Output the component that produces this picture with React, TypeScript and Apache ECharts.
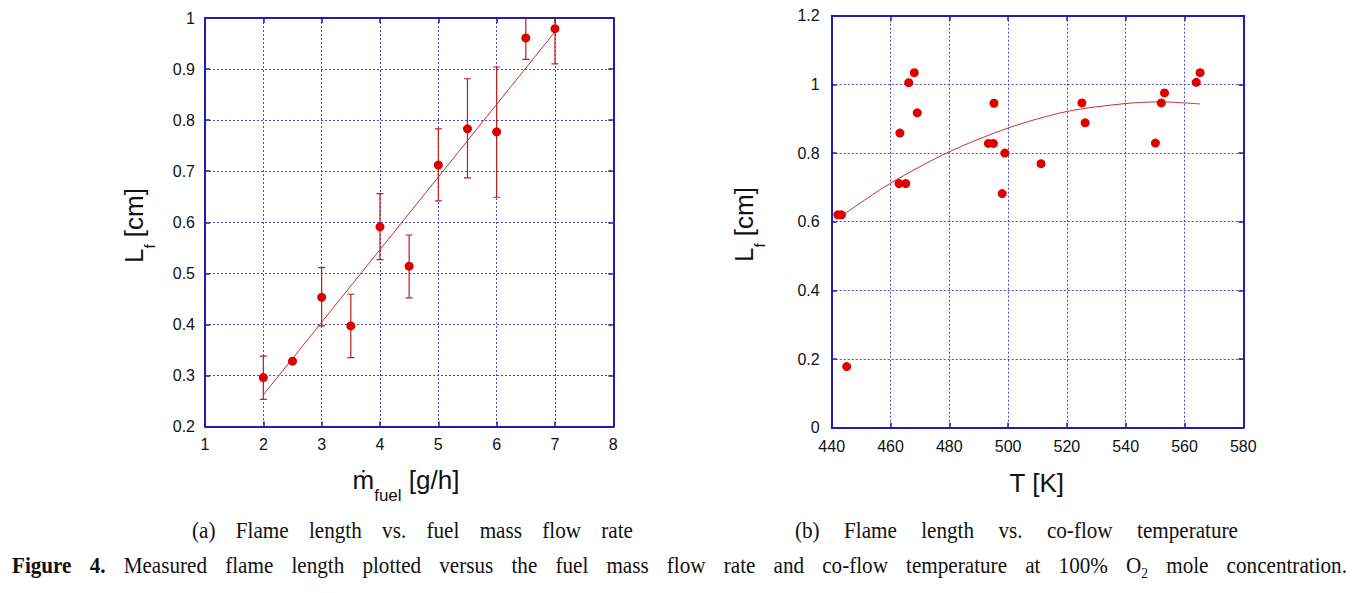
import React, { useEffect, useRef } from 'react';
import * as echarts from 'echarts';

// ---------- Data: (a) flame length vs fuel mass flow rate ----------
const fuelFlow = [2, 2.5, 3, 3.5, 4, 4.5, 5, 5.5, 6, 6.5, 7];
const flameLenA = [0.296, 0.328, 0.453, 0.397, 0.591, 0.514, 0.712, 0.783, 0.777, 0.961, 0.979];
const errLowA = [0.253, null, 0.397, 0.335, 0.527, 0.452, 0.642, 0.687, 0.649, 0.919, 0.91];
const errHighA = [0.338, null, 0.511, 0.459, 0.656, 0.575, 0.783, 0.881, 0.904, 1.003, 1.048];
const fitFlowA = [2, 7];
const fitLenA = [0.262, 0.973];

// ---------- Data: (b) flame length vs co-flow temperature ----------
const coflowT = [442.1, 443.3, 445.1, 462.9, 463.2, 465.2, 466.2, 468.1, 469.1, 493.3, 495.0, 495.2, 498.0, 498.9, 511.2, 525.1, 526.2, 550.1, 552.1, 553.2, 564.0, 565.3];
const flameLenB = [0.62, 0.62, 0.178, 0.711, 0.858, 0.711, 1.005, 1.034, 0.917, 0.828, 0.828, 0.945, 0.682, 0.8, 0.769, 0.946, 0.888, 0.829, 0.946, 0.975, 1.006, 1.034];
const fitT = [443.9, 459.8, 479.6, 500.1, 520, 539.8, 551.7, 565.3];
const fitLenB = [0.62, 0.711, 0.802, 0.873, 0.921, 0.944, 0.949, 0.943];

// ---------- Texts ----------
const captionA = '(a) Flame length vs. fuel mass flow rate';
const captionB = '(b) Flame length vs. co-flow temperature';
const figLabel = ['Figure', '4.'];
const figText = 'Measured flame length plotted versus the fuel mass flow rate and co-flow temperature at 100%';
const figTail = 'mole concentration.';

const SANS = '"Liberation Sans", Arial, Helvetica, sans-serif';
const SERIF = '"Liberation Serif", "Times New Roman", Times, serif';
const AXIS_BLUE = '#1e1eb4';
const GRID_BLUE = '#4a4ac4';
const RED = '#dd0000';
const ERR_RED = '#c01c1c';
const FIT_RED = '#c83030';
const INK = '#111111';
const K = 0.35;

type Run = { text: string; size: number; dy?: number; weight?: string };

function makeMeasure() {
  const ctx = document.createElement('canvas').getContext('2d') as CanvasRenderingContext2D;
  return (text: string, size: number, family: string, weight = 'normal') => {
    ctx.font = `${weight} ${size}px ${family}`;
    return ctx.measureText(text).width;
  };
}

function runEls(measure: any, runs: Run[], x0: number, baseline: number, family: string, color: string, sx = 1) {
  let x = x0;
  const els: any[] = [];
  for (const r of runs) {
    els.push({
      type: 'text',
      x,
      y: baseline + (r.dy || 0) - K * r.size,
      scaleX: sx,
      silent: true,
      style: {
        text: r.text,
        fontSize: r.size,
        fontFamily: family,
        fontWeight: r.weight || 'normal',
        fill: color,
        align: 'left',
        verticalAlign: 'middle',
      },
    });
    x += measure(r.text, r.size, family, r.weight || 'normal') * sx;
  }
  return { els, width: x - x0 };
}

function justified(measure: any, words: Run[][], x0: number, x1: number, baseline: number, family: string, color: string, sx = 1) {
  const widths = words.map((w) => w.reduce((s, r) => s + measure(r.text, r.size, family, r.weight || 'normal') * sx, 0));
  const total = widths.reduce((a, b) => a + b, 0);
  const gap = (x1 - x0 - total) / (words.length - 1);
  let x = x0;
  const els: any[] = [];
  words.forEach((w, i) => {
    els.push(...runEls(measure, w, x, baseline, family, color, sx).els);
    x += widths[i] + gap;
  });
  return els;
}

function axisX(gridIndex: number, min: number, max: number, interval: number, mirror: boolean, margin: number) {
  return {
    type: 'value',
    gridIndex,
    min,
    max,
    interval,
    position: mirror ? 'top' : 'bottom',
    axisLine: { show: true, onZero: false, lineStyle: { color: AXIS_BLUE, width: 2 } },
    axisTick: { show: true, inside: true, length: 5, lineStyle: { color: AXIS_BLUE, width: 1.5 } },
    axisLabel: { show: !mirror, color: INK, fontSize: 16, fontFamily: SANS, margin },
    splitLine: { show: !mirror, lineStyle: { color: GRID_BLUE, type: [2, 2], width: 1 } },
  };
}

function axisY(gridIndex: number, min: number, max: number, interval: number, mirror: boolean, margin: number) {
  return {
    type: 'value',
    gridIndex,
    min,
    max,
    interval,
    position: mirror ? 'right' : 'left',
    axisLine: { show: true, onZero: false, lineStyle: { color: AXIS_BLUE, width: 2 } },
    axisTick: { show: true, inside: true, length: 5, lineStyle: { color: AXIS_BLUE, width: 1.5 } },
    axisLabel: { show: !mirror, color: INK, fontSize: 16, fontFamily: SANS, margin },
    splitLine: { show: !mirror, lineStyle: { color: GRID_BLUE, type: [2, 2], width: 1 } },
  };
}

export default function App() {
  const ref = useRef<HTMLDivElement>(null);

  useEffect(() => {
    document.body.style.margin = '0';
    if (!ref.current) return;
    const chart = echarts.init(ref.current, null, { renderer: 'svg' });
    const measure = makeMeasure();

    const errData = fuelFlow
      .map((x, i) => [x, errLowA[i], errHighA[i]])
      .filter((d) => d[1] != null && d[2] != null);

    // Axis titles
    const yTitleRuns: Run[] = [
      { text: 'L', size: 26 },
      { text: 'f', size: 15, dy: 12 },
      { text: ' [cm]', size: 26 },
    ];
    const yTitleA = { type: 'group', x: 143, y: 263, rotation: Math.PI / 2, children: runEls(measure, yTitleRuns, 0, 0, SANS, INK).els };
    const yTitleB = { type: 'group', x: 753, y: 262, rotation: Math.PI / 2, children: runEls(measure, yTitleRuns, 0, 0, SANS, INK).els };
    const xTitleA = runEls(
      measure,
      [
        { text: 'ṁ', size: 26 },
        { text: 'fuel', size: 17, dy: 12 },
        { text: ' [g/h]', size: 26 },
      ],
      352.5,
      489.5,
      SANS,
      INK,
    ).els;
    const tkW = measure('T [K]', 26, SANS);
    const xTitleB = runEls(measure, [{ text: 'T [K]', size: 26 }], 1037 - tkW / 2, 492.5, SANS, INK).els;

    // Captions
    const CAP = 23.5;
    const SX = 0.9;
    const toWords = (s: string, size: number, weight?: string): Run[][] => s.split(' ').map((w) => [{ text: w, size, weight }]);
    const capA = justified(measure, toWords(captionA, CAP), 192, 633, 538, SERIF, INK, SX);
    const capB = justified(measure, toWords(captionB, CAP), 795, 1238, 538, SERIF, INK, SX);
    const figWords: Run[][] = [
      ...figLabel.map((w) => [{ text: w, size: CAP, weight: 'bold' }]),
      ...toWords(figText, CAP),
      [
        { text: 'O', size: CAP },
        { text: '2', size: 15, dy: 5 },
      ],
      ...toWords(figTail, CAP),
    ];
    const capFig = justified(measure, figWords, 12, 1347, 573, SERIF, INK, SX);

    const option: any = {
      animation: false,
      backgroundColor: '#ffffff',
      grid: [
        { left: 205, top: 18, width: 408.3, height: 408.5 },
        { left: 831.7, top: 15.7, width: 411.6, height: 412 },
      ],
      xAxis: [axisX(0, 1, 8, 1, false, 10), axisX(0, 1, 8, 1, true, 10), axisX(1, 440, 580, 20, false, 11), axisX(1, 440, 580, 20, true, 11)],
      yAxis: [axisY(0, 0.2, 1, 0.1, false, 10), axisY(0, 0.2, 1, 0.1, true, 10), axisY(1, 0, 1.2, 0.2, false, 12), axisY(1, 0, 1.2, 0.2, true, 12)],
      series: [
        {
          type: 'custom',
          name: 'error bars',
          xAxisIndex: 0,
          yAxisIndex: 0,
          clip: true,
          data: errData,
          encode: { x: 0, y: [1, 2] },
          z: 2,
          renderItem: (params: any, api: any) => {
            const x = api.value(0);
            const pLo = api.coord([x, api.value(1)]);
            const pHi = api.coord([x, api.value(2)]);
            const cap = 3.5;
            const style = { stroke: ERR_RED, lineWidth: 1.2 };
            return {
              type: 'group',
              children: [
                { type: 'line', shape: { x1: pLo[0], y1: pLo[1], x2: pHi[0], y2: pHi[1] }, style },
                { type: 'line', shape: { x1: pLo[0] - cap, y1: pLo[1], x2: pLo[0] + cap, y2: pLo[1] }, style },
                { type: 'line', shape: { x1: pHi[0] - cap, y1: pHi[1], x2: pHi[0] + cap, y2: pHi[1] }, style },
              ],
            };
          },
        },
        {
          type: 'line',
          name: 'fit a',
          xAxisIndex: 0,
          yAxisIndex: 0,
          data: fitFlowA.map((x, i) => [x, fitLenA[i]]),
          showSymbol: false,
          lineStyle: { color: FIT_RED, width: 1 },
          z: 2,
        },
        {
          type: 'scatter',
          name: 'flame length a',
          xAxisIndex: 0,
          yAxisIndex: 0,
          data: fuelFlow.map((x, i) => [x, flameLenA[i]]),
          symbolSize: 9,
          itemStyle: { color: RED, opacity: 1 },
          z: 3,
        },
        {
          type: 'line',
          name: 'fit b',
          xAxisIndex: 2,
          yAxisIndex: 2,
          data: fitT.map((x, i) => [x, fitLenB[i]]),
          showSymbol: false,
          smooth: 0.3,
          lineStyle: { color: FIT_RED, width: 1 },
          z: 2,
        },
        {
          type: 'scatter',
          name: 'flame length b',
          xAxisIndex: 2,
          yAxisIndex: 2,
          data: coflowT.map((x, i) => [x, flameLenB[i]]),
          symbolSize: 9,
          itemStyle: { color: RED, opacity: 1 },
          z: 3,
        },
      ],
      graphic: {
        elements: [yTitleA, yTitleB, ...xTitleA, ...xTitleB, ...capA, ...capB, ...capFig],
      },
    };

    chart.setOption(option);
    return () => chart.dispose();
  }, []);

  return <div ref={ref} style={{ width: 1361, height: 593 }} />;
}
